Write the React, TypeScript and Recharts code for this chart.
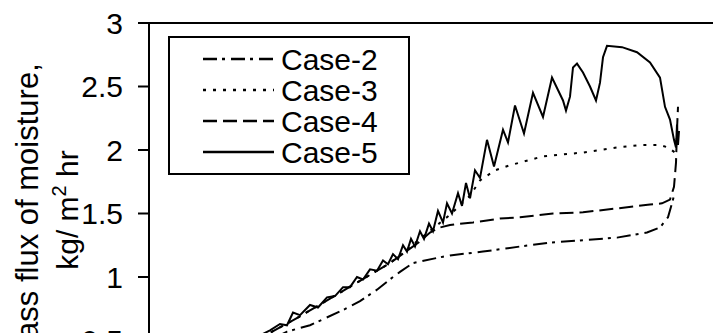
import { LineChart, Line, XAxis, YAxis, ReferenceLine } from 'recharts';

// time (min) and mass flux (kg/m2 hr)
const case2Time = [51, 138, 161, 194, 211, 228, 244, 251, 264, 294, 301, 334, 371, 401, 434, 468, 498, 511, 519, 523, 525];
const case2Flux = [0.22, 0.57, 0.62, 0.74, 0.81, 0.9, 1.0, 1.04, 1.11, 1.16, 1.17, 1.2, 1.24, 1.27, 1.29, 1.31, 1.35, 1.39, 1.47, 1.58, 1.64];

const case3Time = [51, 121, 151, 181, 211, 241, 271, 301, 321, 331, 346, 361, 394, 434, 468, 494, 511, 519, 526, 528];
const case3Flux = [0.27, 0.56, 0.69, 0.83, 0.97, 1.11, 1.3, 1.49, 1.64, 1.76, 1.84, 1.88, 1.95, 1.98, 2.02, 2.04, 2.04, 2.02, 1.98, 2.0];

const case4Time = [51, 121, 151, 181, 211, 241, 271, 281, 291, 301, 324, 351, 371, 404, 434, 468, 501, 513, 521, 525, 527, 528, 529];
const case4Flux = [0.27, 0.56, 0.69, 0.83, 0.97, 1.11, 1.28, 1.35, 1.39, 1.41, 1.43, 1.46, 1.47, 1.5, 1.51, 1.54, 1.57, 1.58, 1.61, 1.71, 1.9, 2.16, 2.34];

const case5Time = [
    51, 81, 106, 121, 131, 138, 144, 151, 161, 169, 178, 186, 194, 201, 208, 214, 221, 228, 234, 239,
    244, 249, 254, 258, 262, 266, 271, 275, 280, 284, 289, 294, 298, 303, 309, 313, 317, 321, 326, 331,
    338, 345, 354, 359, 366, 375, 384, 394, 403, 414, 417, 421, 424, 428, 434, 441, 447, 451, 454, 458,
    473, 488, 501, 511, 516, 521, 525, 527, 528, 529, 530,
];
const case5Flux = [
    0.28, 0.42, 0.52, 0.58, 0.63, 0.62, 0.72, 0.7, 0.78, 0.76, 0.84, 0.85, 0.92, 0.92, 1.0, 0.98, 1.06, 1.05, 1.13, 1.1,
    1.18, 1.14, 1.25, 1.2, 1.3, 1.24, 1.36, 1.3, 1.42, 1.36, 1.52, 1.43, 1.58, 1.5, 1.66, 1.56, 1.74, 1.62, 1.84, 1.78,
    2.08, 1.87, 2.16, 2.06, 2.35, 2.13, 2.45, 2.26, 2.57, 2.39, 2.31, 2.42, 2.65, 2.68, 2.61, 2.5, 2.39, 2.53, 2.73, 2.82,
    2.81, 2.77, 2.69, 2.57, 2.34, 2.24, 2.08, 2.02, 2.2, 2.04, 2.15,
];

const yTicks = [0, 0.5, 1, 1.5, 2, 2.5, 3];

const toPoints = (time: number[], flux: number[]) => time.map((t, i) => ({ t, v: flux[i] }));

const SERIES = [
    { name: 'Case-2', data: toPoints(case2Time, case2Flux), dash: '14 5 3 6' },
    { name: 'Case-3', data: toPoints(case3Time, case3Flux), dash: '3 7' },
    { name: 'Case-4', data: toPoints(case4Time, case4Flux), dash: '14 6' },
    { name: 'Case-5', data: toPoints(case5Time, case5Flux), dash: undefined },
];

const FONT = '"Liberation Sans", Arial, sans-serif';

const YLabel = () => (
    <g fontFamily={FONT} fill="#000">
        <text x={38} y={214} transform="rotate(-90 38 214)" textAnchor="middle" fontSize={31}>
            Mass flux of moisture,
        </text>
        <text x={78} y={210} transform="rotate(-90 78 210)" textAnchor="middle" fontSize={30}>
            <tspan>kg/ m</tspan>
            <tspan fontSize={20} dy={-12}>2</tspan>
            <tspan dy={12}> hr</tspan>
        </text>
    </g>
);

const LegendBox = () => (
    <svg width={713} height={333} style={{ position: 'absolute', left: 0, top: 0 }}>
        <rect x={169} y={37} width={240} height={137} fill="#fff" stroke="#000" strokeWidth={2} />
        {SERIES.map((s, i) => {
            const y = 59 + i * 31;
            return (
                <g key={s.name}>
                    <line x1={203} x2={274} y1={y} y2={y} stroke="#000" strokeWidth={2.5} strokeDasharray={s.dash} />
                    <text x={281} y={y + 11} fontSize={30} fontFamily={FONT} fill="#000">
                        {s.name}
                    </text>
                </g>
            );
        })}
    </svg>
);

export default function App() {
    return (
        <div style={{ position: 'absolute', left: 0, top: 0, width: 713, height: 333, overflow: 'hidden', background: '#fff' }}>
            <LineChart width={800} height={414} margin={{ top: 23, right: 11, left: 0, bottom: 10 }}>
                <XAxis type="number" dataKey="t" domain={[0, 640]} hide allowDataOverflow />
                <YAxis
                    type="number"
                    domain={[0, 3]}
                    ticks={yTicks}
                    width={149}
                    axisLine={{ stroke: '#000', strokeWidth: 2 }}
                    tickLine={{ stroke: '#000', strokeWidth: 2 }}
                    tickSize={11}
                    tickMargin={15}
                    tick={{ fill: '#000', fontSize: 30, fontFamily: FONT }}
                    label={{ content: () => <YLabel /> }}
                />
                <ReferenceLine y={3} stroke="#000" strokeWidth={2} />
                {SERIES.map((s) => (
                    <Line
                        key={s.name}
                        data={s.data}
                        dataKey="v"
                        type="linear"
                        stroke="#000"
                        strokeWidth={2}
                        strokeDasharray={s.dash}
                        dot={false}
                        isAnimationActive={false}
                    />
                ))}
            </LineChart>
            <LegendBox />
        </div>
    );
}
